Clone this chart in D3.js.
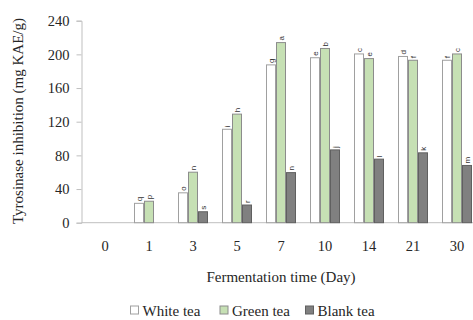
<!DOCTYPE html>
<html>
<head>
<meta charset="utf-8">
<title>Tyrosinase inhibition</title>
<style>
body { margin: 0; background-color: #ffffff; }
svg { display: block; }
</style>
</head>
<body>
<script src="https://cdn.jsdelivr.net/npm/d3@7/dist/d3.min.js"></script>
<script>

// data
var days = ["0", "1", "3", "5", "7", "10", "14", "21", "30"];
var seriesNames = ["White tea", "Green tea", "Blank tea"];
var whiteTea = [0, 23, 35.5, 111, 187.5, 196, 200.5, 197.5, 193];
var greenTea = [0, 25.5, 60, 129, 214, 207, 195, 193, 200.5];
var blankTea = [0, 0, 13, 21, 59.5, 86.5, 75.5, 83, 68];
var whiteLetters = ["", "q", "o", "i", "g", "e", "c", "d", "f"];
var greenLetters = ["", "p", "n", "h", "a", "b", "e", "f", "c"];
var blankLetters = ["", "", "s", "r", "n", "j", "l", "k", "m"];
var yTicks = [0, 40, 80, 120, 160, 200, 240];

var w = 473, h = 320;
var fills = ["#ffffff", "#c6e0b4", "#808080"];
var strokes = ["#a0a0a0", "#8c8c8c", "#606060"];
var serif = "'Liberation Serif', 'DejaVu Serif', serif";

var svg = d3.select("body")
            .append("svg")
            .attr("width", w)
            .attr("height", h);

var x = d3.scaleBand()
          .domain(days)
          .range([83, 479])
          .paddingInner(14 / 44)
          .paddingOuter(7 / 44);

var xs = d3.scaleBand()
           .domain(seriesNames)
           .range([0, x.bandwidth()]);

var y = d3.scaleLinear()
          .domain([0, 240])
          .range([222.7, 20.7]);

// y axis
var yAxis = svg.append("g")
               .attr("transform", "translate(81.5,0)")
               .call(d3.axisLeft(y).tickValues(yTicks).tickSize(5).tickPadding(7));
yAxis.selectAll("path, line").attr("stroke", "#bfbfbf");
yAxis.selectAll("text")
     .attr("font-family", serif)
     .attr("font-size", "14.5px")
     .attr("fill", "#262626");

// x axis line (no ticks)
var xAxis = svg.append("g")
               .attr("transform", "translate(0,222.7)")
               .call(d3.axisBottom(x).tickSize(0).tickPadding(18));
xAxis.select("path").attr("d", "M81.5,0H479").attr("stroke", "#bfbfbf");
xAxis.selectAll("text")
     .attr("font-family", serif)
     .attr("font-size", "14.5px")
     .attr("fill", "#262626");

// bars
var rows = [];
days.forEach(function(d, i) {
  rows.push({day: d, s: 0, v: whiteTea[i], lab: whiteLetters[i]});
  rows.push({day: d, s: 1, v: greenTea[i], lab: greenLetters[i]});
  rows.push({day: d, s: 2, v: blankTea[i], lab: blankLetters[i]});
});
rows = rows.filter(function(r) { return r.v > 0; });

svg.selectAll("rect.bar")
   .data(rows)
   .enter()
   .append("rect")
   .attr("class", "bar")
   .attr("x", function(d) { return x(d.day) + xs(seriesNames[d.s]) + 0.5; })
   .attr("y", function(d) { return y(d.v); })
   .attr("width", xs.bandwidth() - 1)
   .attr("height", function(d) { return y(0) - y(d.v); })
   .attr("fill", function(d) { return fills[d.s]; })
   .attr("stroke", function(d) { return strokes[d.s]; })
   .attr("stroke-width", 1);

// significance letters, rotated
svg.selectAll("text.sig")
   .data(rows)
   .enter()
   .append("text")
   .attr("class", "sig")
   .text(function(d) { return d.lab; })
   .attr("transform", function(d) {
      var cx = x(d.day) + xs(seriesNames[d.s]) + xs.bandwidth() / 2 + 2.6;
      return "translate(" + cx + "," + (y(d.v) - 2) + ") rotate(-90)";
   })
   .attr("font-family", "'Liberation Sans', Arial, sans-serif")
   .attr("font-size", "8px")
   .attr("fill", "#333");

// axis titles
svg.append("text")
   .text("Tyrosinase inhibition (mg KAE/g)")
   .attr("transform", "translate(23,121) rotate(-90)")
   .attr("text-anchor", "middle")
   .attr("font-family", serif)
   .attr("font-size", "15px")
   .attr("fill", "#262626");

svg.append("text")
   .text("Fermentation time (Day)")
   .attr("x", 281)
   .attr("y", 282)
   .attr("text-anchor", "middle")
   .attr("font-family", serif)
   .attr("font-size", "15px")
   .attr("fill", "#262626");

// legend
var legendX = [130.5, 220, 305.5];
var legend = svg.selectAll("g.leg")
                .data(seriesNames)
                .enter()
                .append("g")
                .attr("class", "leg")
                .attr("transform", function(d, i) { return "translate(" + legendX[i] + ",306)"; });
legend.append("rect")
      .attr("width", 8)
      .attr("height", 8)
      .attr("fill", function(d, i) { return fills[i]; })
      .attr("stroke", function(d, i) { return strokes[i]; });
legend.append("text")
      .text(function(d) { return d; })
      .attr("x", 12)
      .attr("y", 9.5)
      .attr("font-family", serif)
      .attr("font-size", "15px")
      .attr("fill", "#262626");

</script>
</body>
</html>
